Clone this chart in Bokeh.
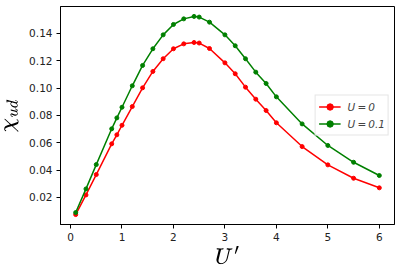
from bokeh.plotting import figure
from bokeh.models import Range1d, FixedTicker, NumeralTickFormatter
from bokeh.embed import file_html
from bokeh.resources import INLINE

u_prime = [0.1, 0.3, 0.5, 0.8, 0.9, 1.0, 1.2, 1.4, 1.6, 1.8, 2.0, 2.2, 2.4, 2.5,
           2.7, 3.0, 3.2, 3.4, 3.6, 3.8, 4.0, 4.5, 5.0, 5.5, 6.0]
chi_u0 = [0.0074, 0.0218, 0.0367, 0.0592, 0.0658, 0.0728, 0.0865, 0.1002, 0.1122,
          0.1215, 0.1288, 0.1324, 0.1334, 0.1330, 0.1290, 0.1185, 0.1105, 0.1007,
          0.0919, 0.0836, 0.0746, 0.0572, 0.0438, 0.0340, 0.0270]
chi_u01 = [0.0089, 0.0262, 0.0440, 0.0702, 0.0782, 0.0860, 0.1017, 0.1166, 0.1288,
           0.1390, 0.1466, 0.1507, 0.1525, 0.1520, 0.1483, 0.1390, 0.1310, 0.1215,
           0.1117, 0.1034, 0.0936, 0.0738, 0.0580, 0.0457, 0.0360]
x_ticks = [0, 1, 2, 3, 4, 5, 6]
y_ticks = [0.02, 0.04, 0.06, 0.08, 0.10, 0.12, 0.14]
labels = ["U\u2009=\u20090", "U\u2009=\u20090.1"]
x_label = r"$$U'$$"
y_label = r"$$\chi_{ud}$$"

xmin, xmax = min(u_prime), max(u_prime)
ymin = min(chi_u0 + chi_u01)
ymax = max(chi_u0 + chi_u01)
mx = 0.05 * (xmax - xmin)
my = 0.05 * (ymax - ymin)
x0, x1 = xmin - mx, xmax + mx
y0, y1 = ymin - my, ymax + my

p = figure(width=398, height=272, output_backend="svg", toolbar_location=None,
           x_range=Range1d(x0, x1), y_range=Range1d(y0, y1),
           min_border_left=60, min_border_right=4, min_border_top=6, min_border_bottom=48)
p.background_fill_color = "white"
p.border_fill_color = "white"
p.outline_line_color = "black"
p.outline_line_width = 1
p.xgrid.visible = False
p.ygrid.visible = False

for ys, col, lab in [(chi_u0, "red", labels[0]), (chi_u01, "green", labels[1])]:
    p.line(u_prime, ys, line_color=col, line_width=1.5, legend_label=lab)
    p.scatter(u_prime, ys, size=4, fill_color=col, line_color=col, legend_label=lab)

for ax in (p.xaxis[0], p.yaxis[0]):
    ax.axis_line_color = "black"
    ax.major_tick_line_color = "black"
    ax.major_tick_out = 4
    ax.major_tick_in = 0
    ax.minor_tick_line_color = None
    ax.major_label_text_font = "DejaVu Sans"
    ax.major_label_text_font_size = "10.5px"
    ax.major_label_text_color = "#222222"
    ax.major_label_standoff = 4
    ax.axis_label_text_font_size = "14pt"
    ax.axis_label_text_color = "black"

p.xaxis.ticker = FixedTicker(ticks=x_ticks)
p.yaxis.ticker = FixedTicker(ticks=y_ticks)
p.yaxis.formatter = NumeralTickFormatter(format="0.00")
p.xaxis.axis_label = x_label
p.yaxis.axis_label = y_label
p.xaxis.axis_label_standoff = 2
p.yaxis.axis_label_standoff = 1

lg = p.legend[0]
lg.location = "right"
lg.margin = 5
lg.padding = 3
lg.spacing = 1
lg.label_text_font = "DejaVu Sans"
lg.label_text_font_style = "italic"
lg.label_text_font_size = "10.5px"
lg.glyph_width = 22
lg.glyph_height = 16
lg.label_height = 16
lg.label_standoff = 7
lg.border_line_color = "#cccccc"
lg.border_line_width = 1
lg.background_fill_alpha = 0.8

open("out.html", "w").write(file_html(p, INLINE))
